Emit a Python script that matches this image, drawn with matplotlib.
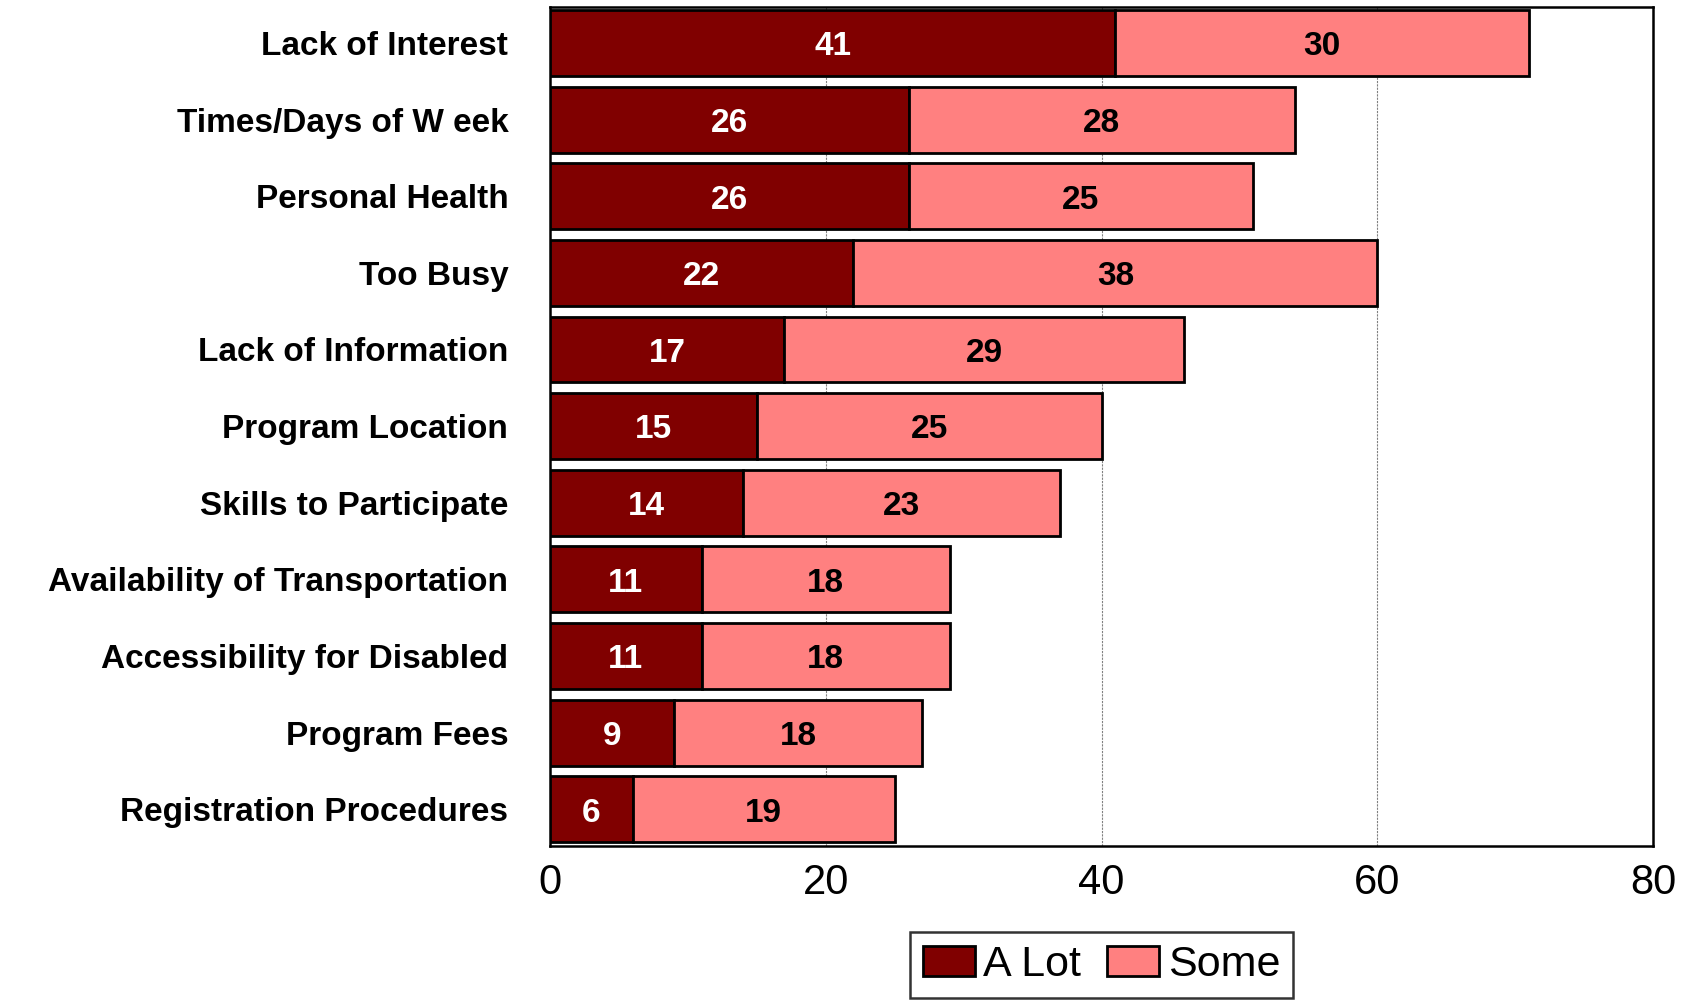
import matplotlib.pyplot as plt

plt.rcParams['font.family'] = ['Liberation Sans', 'DejaVu Sans']

reasons = ['Lack of Interest', 'Times/Days of W eek', 'Personal Health', 'Too Busy',
           'Lack of Information', 'Program Location', 'Skills to Participate',
           'Availability of Transportation', 'Accessibility for Disabled',
           'Program Fees', 'Registration Procedures']
a_lot = [41, 26, 26, 22, 17, 15, 14, 11, 11, 9, 6]
some = [30, 28, 25, 38, 29, 25, 23, 18, 18, 18, 19]
x_ticks = [0, 20, 40, 60, 80]

fig = plt.figure(figsize=(17, 10), dpi=100)
ax = fig.add_axes([0.3235, 0.154, 0.649, 0.839])

ypos = list(range(len(reasons)))
b1 = ax.barh(ypos, a_lot, height=0.86, color='#800000', edgecolor='black', linewidth=2, label='A Lot', zorder=3)
b2 = ax.barh(ypos, some, left=a_lot, height=0.86, color='#ff8080', edgecolor='black', linewidth=2, label='Some', zorder=3)

for i in ypos:
    ax.text(a_lot[i] / 2, i + 0.05, str(a_lot[i]), ha='center', va='center', color='white',
            fontsize=24, fontweight='bold', zorder=4)
    ax.text(a_lot[i] + some[i] / 2, i + 0.05, str(some[i]), ha='center', va='center', color='black',
            fontsize=24, fontweight='bold', zorder=4)

ax.set_xlim(0, 80)
ax.set_ylim(10.48, -0.47)
ax.set_xticks(x_ticks)
ax.set_xticklabels([str(t) for t in x_ticks], fontsize=30)
ax.set_yticks(ypos)
ax.set_yticklabels(reasons, fontsize=24, fontweight='bold')
ax.tick_params(axis='both', length=0)
ax.tick_params(axis='y', pad=30)
ax.tick_params(axis='x', pad=12)
ax.grid(axis='x', color='gray', linestyle=(0, (2, 1)), linewidth=0.8, zorder=0)
for s in ax.spines.values():
    s.set_linewidth(1.8)
    s.set_color('black')

leg = fig.legend(handles=[b1, b2], labels=['A Lot', 'Some'], loc='upper center',
                 bbox_to_anchor=(0.648, 0.068), borderaxespad=0, ncol=2, fontsize=31, frameon=True,
                 fancybox=False, edgecolor='black', handlelength=1.2, handleheight=0.7,
                 handletextpad=0.2, columnspacing=0.6, borderpad=0.3)
leg.get_frame().set_linewidth(1.8)

fig.savefig('out.png', dpi=100)
